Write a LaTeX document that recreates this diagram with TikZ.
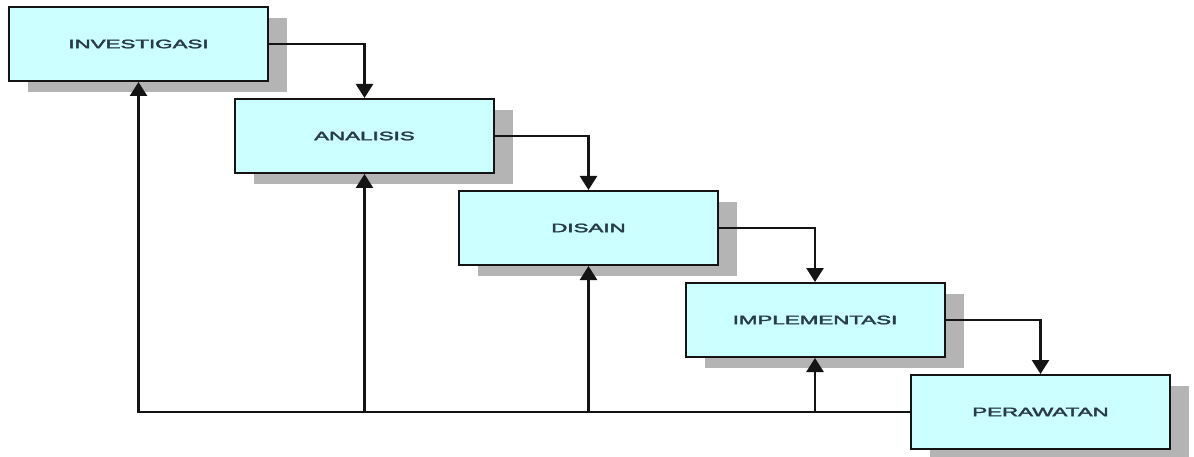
\documentclass[tikz,border=0pt]{standalone}
\usepackage{fontspec}
\setmainfont{Liberation Sans}
\newfontfamily\phasefont{Liberation Sans}[FakeBold=2.5]
\usetikzlibrary{arrows.meta,shadows}
\definecolor{boxfill}{RGB}{204,255,255}
\definecolor{shadowgray}{RGB}{180,180,180}
\definecolor{labeltext}{RGB}{40,60,70}
\definecolor{linedark}{RGB}{20,20,20}
\begin{document}
\begin{tikzpicture}[x=1pt,y=-1pt,
  phase/.style={draw=linedark, line width=2pt, fill=boxfill,
    minimum width=259pt, minimum height=74pt, inner sep=0pt,
    text=labeltext, font=\phasefont\fontsize{12.2}{14}\selectfont,
    drop shadow={shadow xshift=19pt, shadow yshift=-11pt,
      fill=shadowgray, opacity=1}},
  flow/.style={draw=linedark, line width=2.6pt,
    -{Triangle[width=17pt,length=14pt]}}]
  \useasboundingbox (0,0) rectangle (1194,457);
  \fill[white] (0,0) rectangle (1194,457);

  % phases of the cycle
  \node[phase] (inv) at (138.5,44)  {\scalebox{1.83}[1]{INVESTIGASI}};
  \node[phase] (ana) at (364.5,136) {\scalebox{1.83}[1]{ANALISIS}};
  \node[phase] (dis) at (588.5,228) {\scalebox{1.83}[1]{DISAIN}};
  \node[phase] (imp) at (815,320)   {\scalebox{1.83}[1]{IMPLEMENTASI}};
  \node[phase] (per) at (1040.5,412){\scalebox{1.83}[1]{PERAWATAN}};

  % forward steps
  \draw[flow] (inv.east) -| (ana.north);
  \draw[flow] (ana.east) -| (dis.north);
  \draw[flow] (dis.east) -| (imp.north);
  \draw[flow] (imp.east) -| (per.north);

  % feedback paths
  \draw[flow] (per.west) -| (inv.south);
  \draw[flow] (ana.south |- per.west) -- (ana.south);
  \draw[flow] (dis.south |- per.west) -- (dis.south);
  \draw[flow] (imp.south |- per.west) -- (imp.south);
\end{tikzpicture}
\end{document}
